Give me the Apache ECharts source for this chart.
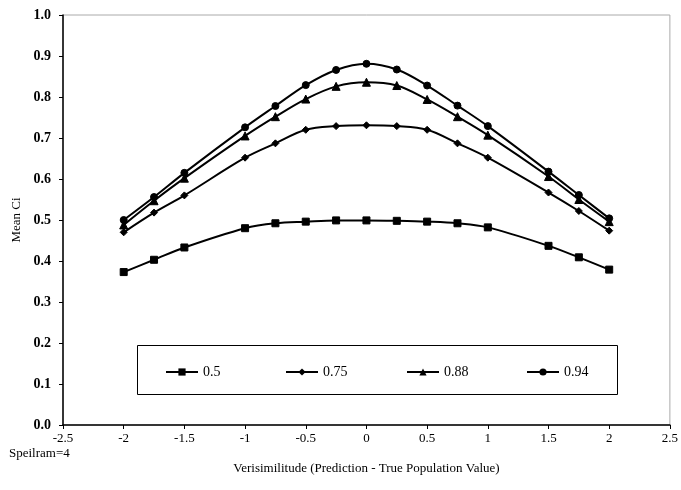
<!DOCTYPE html>
<html>
<head>
<meta charset="utf-8">
<script src="https://cdn.jsdelivr.net/npm/echarts@6/dist/echarts.min.js"></script>
<style>
  html, body { margin: 0; padding: 0; background: #fff; }
  #chart { width: 681px; height: 490px; }
</style>
</head>
<body>
<div id="chart"></div>
<script>
// verisimilitude values on the x axis
const xVals = [-2, -1.75, -1.5, -1, -0.75, -0.5, -0.25, 0, 0.25, 0.5, 0.75, 1, 1.5, 1.75, 2];

const s050 = [0.373, 0.403, 0.433, 0.480, 0.492, 0.496, 0.499, 0.499, 0.498, 0.496, 0.492, 0.482, 0.437, 0.409, 0.379];
const s075 = [0.470, 0.518, 0.560, 0.652, 0.687, 0.720, 0.729, 0.731, 0.729, 0.720, 0.687, 0.652, 0.567, 0.522, 0.474];
const s088 = [0.488, 0.547, 0.602, 0.705, 0.752, 0.795, 0.826, 0.836, 0.828, 0.794, 0.752, 0.707, 0.606, 0.550, 0.496];
const s094 = [0.500, 0.556, 0.615, 0.726, 0.778, 0.829, 0.866, 0.881, 0.867, 0.828, 0.779, 0.729, 0.618, 0.561, 0.504];

const seriesNames = ["0.5", "0.75", "0.88", "0.94"];
const seriesData = [s050, s075, s088, s094];
const symbols = ["rect", "diamond", "triangle", "circle"];

const font = "Liberation Serif";

const chart = echarts.init(document.getElementById("chart"));

// one legend per entry so they spread evenly across the box
const legendLefts = [160, 280, 401, 521];

chart.setOption({
  animation: false,
  backgroundColor: "#fff",
  title: {
    text: "Speilram=4",
    left: 4,
    top: 442,
    textStyle: { fontFamily: font, fontSize: 13, fontWeight: "normal", color: "#000" },
  },
  grid: {
    left: 63,
    right: 11,
    top: 15,
    bottom: 65,
    show: true,
    borderColor: "#aaa",
    borderWidth: 1,
  },
  graphic: [
    {
      type: "rect",
      left: 135,
      top: 343,
      shape: { width: 480, height: 49 },
      style: { fill: "none", stroke: "#000", lineWidth: 1 },
      z: 1,
    },
  ],
  legend: seriesNames.map((name, i) => ({
    left: legendLefts[i],
    top: 360,
    itemWidth: 32,
    itemHeight: 9,
    itemGap: 5,
    data: [name],
    textStyle: { fontFamily: font, fontSize: 14, color: "#000" },
  })),
  xAxis: {
    type: "value",
    min: -2.5,
    max: 2.5,
    interval: 0.5,
    name: "Verisimilitude (Prediction - True Population Value)",
    nameLocation: "middle",
    nameGap: 37,
    nameTextStyle: { fontFamily: font, fontSize: 13, color: "#000" },
    axisLine: { onZero: false, lineStyle: { color: "#000", width: 1.5 } },
    axisTick: { show: true, length: 4, lineStyle: { color: "#000" } },
    axisLabel: { fontFamily: font, fontSize: 13, color: "#000", margin: 7 },
    splitLine: { show: false },
  },
  yAxis: {
    type: "value",
    min: 0,
    max: 1,
    interval: 0.1,
    name: "Mean Ci",
    nameLocation: "middle",
    nameGap: 37,
    nameTextStyle: { fontFamily: font, fontSize: 13, color: "#000" },
    axisLine: { show: true, onZero: false, lineStyle: { color: "#000", width: 1.5 } },
    axisTick: { show: true, length: 4, lineStyle: { color: "#000" } },
    axisLabel: {
      fontFamily: font,
      fontSize: 14,
      fontWeight: "bold",
      color: "#000",
      margin: 12,
      formatter: (v) => v.toFixed(1),
    },
    splitLine: { show: false },
  },
  series: seriesNames.map((name, i) => ({
    name: name,
    type: "line",
    smooth: 0.35,
    symbol: symbols[i],
    symbolSize: i === 2 ? 8 : 7,
    showSymbol: true,
    lineStyle: { color: "#000", width: 2 },
    itemStyle: { color: "#000", borderColor: "#000" },
    data: xVals.map((x, j) => [x, seriesData[i][j]]),
  })),
});
</script>
</body>
</html>
